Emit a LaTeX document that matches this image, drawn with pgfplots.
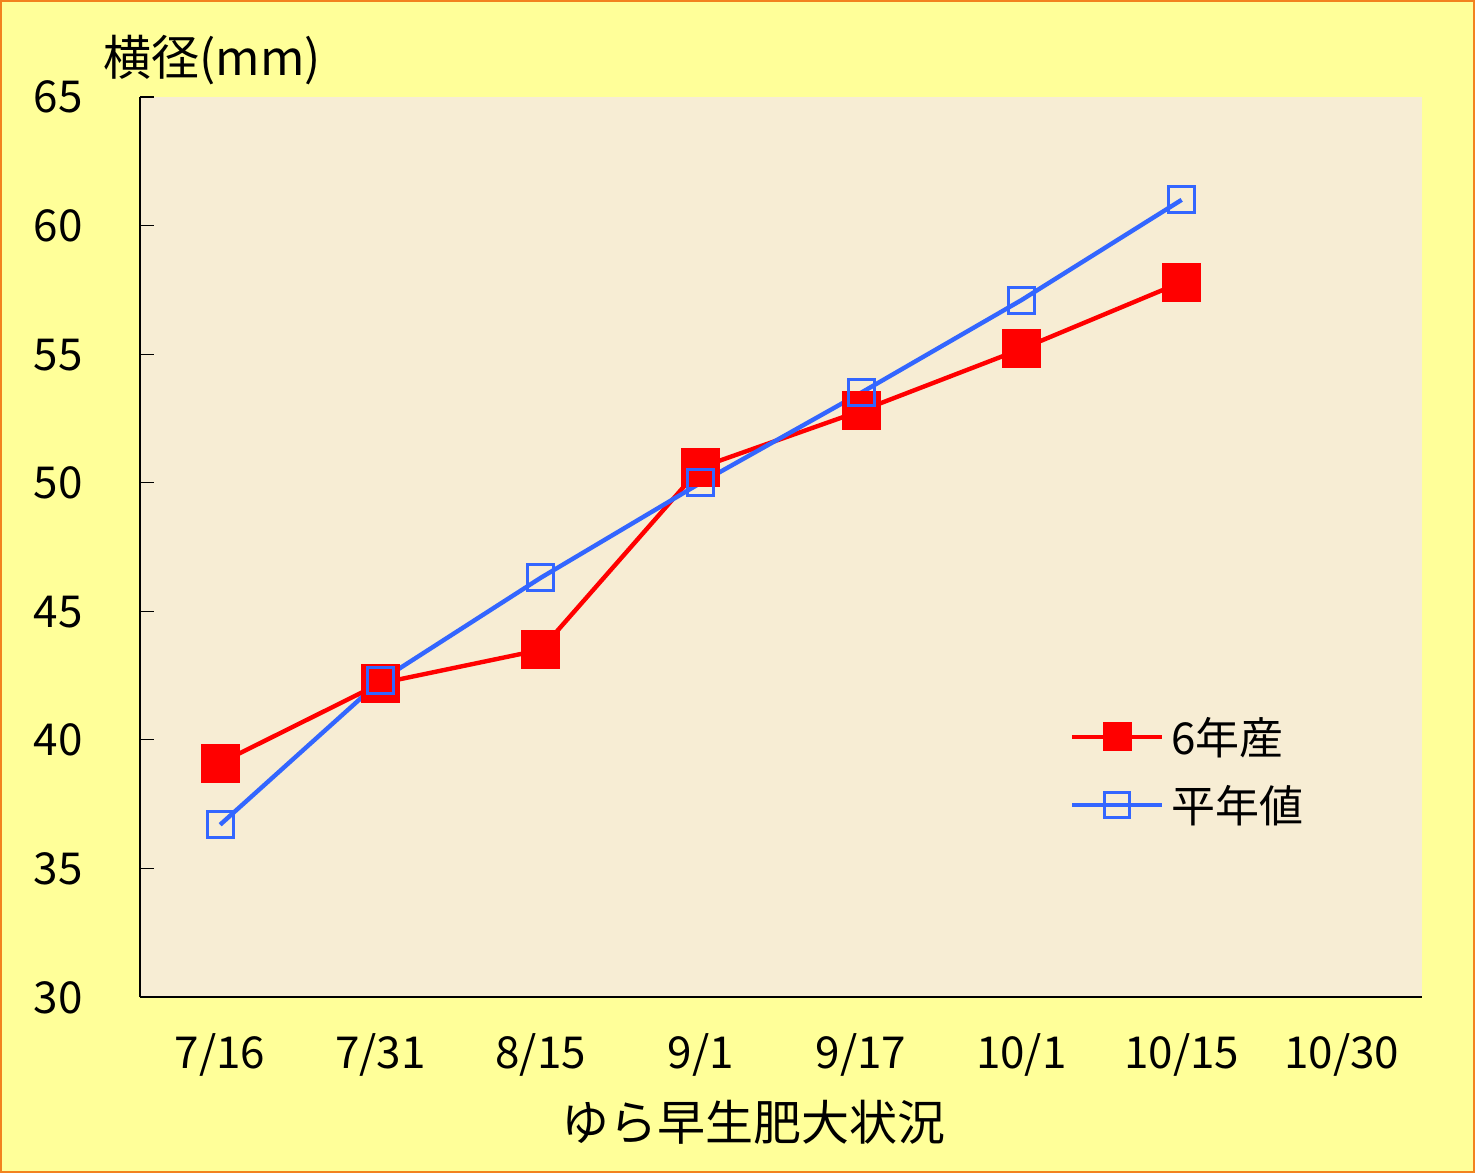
\documentclass[border=0pt]{standalone}
\usepackage{fontspec}
\setmainfont{Noto Sans CJK JP}
\usepackage{pgfplots}
\pgfplotsset{compat=1.18}
\definecolor{bgyellow}{RGB}{255,255,153}
\definecolor{plotbg}{RGB}{247,237,212}
\definecolor{frameorange}{RGB}{242,130,30}
\definecolor{sred}{RGB}{255,0,0}
\definecolor{sblue}{RGB}{51,102,255}
\begin{document}
\begin{tikzpicture}
\useasboundingbox (0,0) rectangle (737.5pt,586.5pt);
\fill[bgyellow] (0,0) rectangle (737.5pt,586.5pt);
\draw[frameorange, line width=1.2pt] (0.6pt,0.6pt) rectangle (736.9pt,585.9pt);
\begin{axis}[
  at={(70pt,88pt)}, anchor=south west,
  scale only axis, width=641pt, height=450pt,
  xmin=-0.5, xmax=7.5, ymin=30, ymax=65,
  axis x line*=bottom, axis y line*=left,
  axis line style={black, line width=0.6pt},
  axis background/.style={fill=plotbg},
  xtick={0,...,7},
  xticklabels={7/16,7/31,8/15,9/1,9/17,10/1,10/15,10/30},
  x tick style={draw=none},
  minor xtick={0.5,1.5,...,7.5},
  ytick={30,35,...,65},
  tick align=inside,
  major tick length=7pt, minor tick length=7pt,
  tick style={black, line width=0.6pt},
  xticklabel style={font=\fontsize{22}{26}\selectfont, anchor=base, inner sep=0pt, yshift=-35.5pt},
  yticklabel style={font=\fontsize{22}{26}\selectfont, anchor=base east, inner sep=0pt, xshift=-28.5pt, yshift=-8pt},
  /pgf/number format/assume math mode=true,
  legend image code/.code={\draw[mark repeat=2,mark phase=2,#1] plot coordinates {(0pt,0pt) (22.5pt,0pt) (45pt,0pt)};},
  legend style={at={(0.7254,0.2511)}, anchor=west, draw=none, fill=none, inner sep=0pt,
    font=\fontsize{22}{26}\selectfont, row sep=14pt,
    nodes={inner sep=0pt}},
  legend cell align=left,
  /tikz/every odd column/.append style={column sep=3.5pt},
]
\addlegendimage{sred, line width=2pt, mark=square*, mark size=7pt, mark options={line width=0.5pt}}
\addlegendentry{6年産}
\addlegendimage{sblue, line width=2pt, mark=square, mark size=6.25pt, mark options={line width=1.5pt}}
\addlegendentry{平年値}
\addplot[forget plot, sred, line width=2.2pt, mark=square*, mark size=9.5pt, mark options={line width=0.5pt}]
  coordinates {(0,39.1) (1,42.2) (2,43.5) (3,50.6) (4,52.8) (5,55.2) (6,57.8)};
\addplot[forget plot, sblue, line width=2.2pt, mark=square, mark size=6.5pt, mark options={line width=1.5pt}]
  coordinates {(0,36.7) (1,42.3) (2,46.3) (3,50.0) (4,53.5) (5,57.1) (6,61.0)};
\end{axis}
\node[anchor=base west, inner sep=0pt, font=\fontsize{24}{28}\selectfont] at (51.5pt,548.5pt) {横径(mm)};
\node[anchor=base, inner sep=0pt, font=\fontsize{24}{28}\selectfont] at (376.75pt,16.5pt) {ゆら早生肥大状況};
\end{tikzpicture}
\end{document}
